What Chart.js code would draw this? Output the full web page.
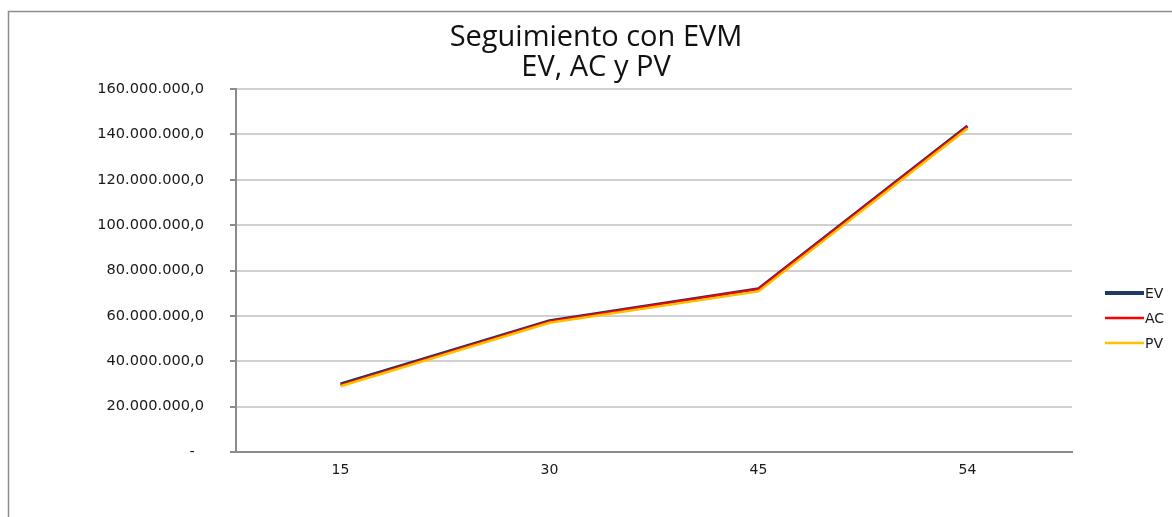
<!DOCTYPE html>
<html>
<head>
<meta charset="utf-8">
<script src="https://cdn.jsdelivr.net/npm/chart.js@4.4.1/dist/chart.umd.min.js"></script>
<style>
  html, body { margin: 0; padding: 0; background: #fff; }
</style>
</head>
<body>
<canvas id="evm-chart" width="1172" height="517"></canvas>
<script>
const TITLE_LINES = ["Seguimiento con EVM", "EV, AC y PV"];
const WEEKS = ["15", "30", "45", "54"];

const EV_VALUES = [30000000, 57900000, 72000000, 143700000];
const AC_VALUES = [29600000, 57600000, 71800000, 143400000];
const PV_VALUES = [29000000, 57000000, 70800000, 142600000];

const Y_MIN = 0;
const Y_MAX = 160000000;
const Y_STEP = 20000000;

const TEXT_COLOR = "#1a1a1a";
const AXIS_COLOR = "#8c8c8c";
const GRID_COLOR = "#d0d0d0";

// 160000000 -> "160.000.000,0", 0 -> "-"
function formatMoney(v) {
  if (v === 0) return "-  ";
  const s = Math.round(v).toString().replace(/\B(?=(\d{3})+(?!\d))/g, ".");
  return `${s},0`;
}

const frameTitleLegend = {
  id: "frameTitleLegend",
  beforeDraw(chart) {
    const ctx = chart.ctx;
    ctx.save();
    ctx.fillStyle = "#fff";
    ctx.fillRect(0, 0, chart.width, chart.height);
    // outer frame (left + top only are visible in the reference)
    ctx.strokeStyle = AXIS_COLOR;
    ctx.lineWidth = 1.5;
    ctx.beginPath();
    ctx.moveTo(8.5, chart.height);
    ctx.lineTo(8.5, 11.5);
    ctx.lineTo(chart.width, 11.5);
    ctx.stroke();
    ctx.restore();
  },
  afterDraw(chart) {
    const ctx = chart.ctx;
    ctx.save();

    // title, two lines
    ctx.fillStyle = "#111";
    ctx.font = "29px 'Open Sans'";
    ctx.textAlign = "center";
    ctx.textBaseline = "alphabetic";
    ctx.fillText(TITLE_LINES[0], 596, 46);
    ctx.fillText(TITLE_LINES[1], 596, 76);

    // legend on the right
    ctx.font = "14px 'DejaVu Sans'";
    ctx.textAlign = "left";
    ctx.textBaseline = "middle";
    chart.data.datasets.forEach((ds, i) => {
      const y = 293 + i * 25;
      ctx.strokeStyle = ds.borderColor;
      ctx.lineWidth = ds.legendWidth;
      ctx.beginPath();
      ctx.moveTo(1105, y);
      ctx.lineTo(1144, y);
      ctx.stroke();
      ctx.fillStyle = TEXT_COLOR;
      ctx.fillText(ds.label, 1145, y + 1);
    });
    ctx.restore();
  },
};

const ctx = document.getElementById("evm-chart").getContext("2d");

new Chart(ctx, {
  type: "line",
  data: {
    labels: WEEKS,
    datasets: [
      {
        label: "EV",
        data: EV_VALUES,
        borderColor: "#1f3864",
        borderWidth: 3,
        legendWidth: 4,
        order: 3,
      },
      {
        label: "AC",
        data: AC_VALUES,
        borderColor: "#ff0000",
        borderWidth: 2,
        legendWidth: 2.5,
        order: 2,
      },
      {
        label: "PV",
        data: PV_VALUES,
        borderColor: "#ffc000",
        borderWidth: 2.5,
        legendWidth: 2.5,
        order: 1,
      },
    ],
  },
  options: {
    responsive: false,
    animation: false,
    elements: {
      point: { radius: 0 },
      line: { tension: 0, fill: false },
    },
    layout: { padding: { left: 0, top: 89, right: 100, bottom: 0 } },
    plugins: {
      legend: { display: false },
      title: { display: false },
      tooltip: { enabled: false },
    },
    scales: {
      x: {
        offset: true,
        afterFit: (scale) => { scale.height = 65; },
        grid: { display: false, drawTicks: false },
        border: { display: true, color: AXIS_COLOR, width: 2 },
        ticks: {
          padding: 10,
          color: TEXT_COLOR,
          font: { family: "'DejaVu Sans'", size: 14 },
        },
      },
      y: {
        min: Y_MIN,
        max: Y_MAX,
        afterFit: (scale) => { scale.width = 236; },
        grid: {
          color: GRID_COLOR,
          lineWidth: 2,
          tickColor: AXIS_COLOR,
          tickLength: 6,
          tickWidth: 2,
        },
        border: { display: true, color: AXIS_COLOR, width: 2 },
        ticks: {
          stepSize: Y_STEP,
          padding: 26,
          color: TEXT_COLOR,
          font: { family: "'DejaVu Sans'", size: 14.6 },
          callback: (v) => formatMoney(v),
        },
      },
    },
  },
  plugins: [frameTitleLegend],
});
</script>
</body>
</html>
